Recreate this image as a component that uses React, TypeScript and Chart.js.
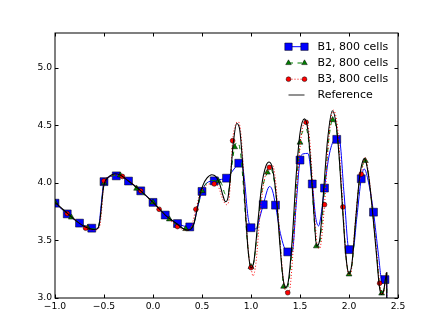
import React, { useEffect, useRef } from "react";
import { Chart, registerables } from "chart.js";

Chart.register(...registerables);

// ---------- tick values ----------
const xTicks = [-1.0, -0.5, 0.0, 0.5, 1.0, 1.5, 2.0, 2.5];
const yTicks = [3.0, 3.5, 4.0, 4.5, 5.0];
const seriesLabels = ["B1, 800 cells", "B2, 800 cells", "B3, 800 cells", "Reference"];

// ---------- reference solution ----------
const refX = [-1.0, -0.9, -0.8, -0.7, -0.64, -0.6, -0.57, -0.55, -0.535, -0.52, -0.505, -0.49, -0.46, -0.42, -0.38, -0.33, -0.25, -0.125, 0.0, 0.125, 0.25, 0.3, 0.35, 0.39, 0.42, 0.45, 0.48, 0.51, 0.55, 0.6, 0.64, 0.68, 0.71, 0.74, 0.765, 0.79, 0.82, 0.855, 0.885, 0.91, 0.94, 0.97, 1.0, 1.03, 1.07, 1.11, 1.15, 1.185, 1.22, 1.26, 1.29, 1.32, 1.35, 1.38, 1.42, 1.46, 1.5, 1.545, 1.58, 1.61, 1.64, 1.67, 1.7, 1.74, 1.78, 1.83, 1.87, 1.9, 1.94, 1.97, 2.0, 2.03, 2.07, 2.11, 2.157, 2.2, 2.24, 2.28, 2.31, 2.33, 2.355, 2.375, 2.385, 2.386];
const refY = [3.83, 3.755, 3.68, 3.62, 3.6, 3.595, 3.6, 3.63, 3.72, 3.85, 3.96, 4.01, 4.045, 4.07, 4.078, 4.065, 4.015, 3.93, 3.83, 3.72, 3.64, 3.605, 3.59, 3.6, 3.65, 3.77, 3.9, 3.98, 4.04, 4.07, 4.055, 3.99, 3.9, 3.835, 3.87, 4.05, 4.35, 4.515, 4.46, 4.22, 3.8, 3.42, 3.26, 3.32, 3.66, 3.98, 4.14, 4.18, 4.12, 3.86, 3.52, 3.22, 3.09, 3.14, 3.5, 4.05, 4.43, 4.555, 4.46, 4.16, 3.76, 3.45, 3.5, 3.92, 4.36, 4.625, 4.5, 4.22, 3.7, 3.35, 3.21, 3.3, 3.7, 4.06, 4.21, 4.06, 3.75, 3.38, 3.1, 3.03, 3.07, 3.18, 3.22, 1.0];

// ---------- B1 ----------
const b1X = [-1.0, -0.875, -0.75, -0.625, -0.58, -0.55, -0.53, -0.5, -0.45, -0.375, -0.25, -0.125, 0.0, 0.125, 0.25, 0.375, 0.41, 0.45, 0.5, 0.55, 0.625, 0.7, 0.75, 0.8, 0.875, 0.9, 0.93, 0.97, 1.0, 1.05, 1.09, 1.125, 1.19, 1.22, 1.25, 1.3, 1.37, 1.42, 1.46, 1.5, 1.53, 1.58, 1.625, 1.66, 1.69, 1.72, 1.75, 1.8, 1.86, 1.9, 1.95, 2.0, 2.04, 2.08, 2.125, 2.155, 2.2, 2.25, 2.3, 2.34, 2.367, 2.385, 2.388];
const b1Y = [3.823, 3.73, 3.65, 3.606, 3.6, 3.64, 3.8, 4.01, 4.05, 4.065, 4.015, 3.93, 3.83, 3.72, 3.646, 3.617, 3.63, 3.77, 3.925, 4.0, 4.017, 4.03, 4.04, 4.09, 4.17, 4.19, 4.05, 3.7, 3.61, 3.6, 3.7, 3.81, 3.968, 3.93, 3.806, 3.56, 3.4, 3.4, 3.8, 4.197, 4.25, 4.255, 3.99, 3.7, 3.626, 3.75, 3.954, 4.25, 4.377, 4.38, 3.9, 3.42, 3.42, 3.7, 4.035, 4.12, 4.0, 3.745, 3.38, 3.13, 3.16, 3.18, 1.0];
const b1MarkX = [-1.0, -0.875, -0.75, -0.625, -0.5, -0.375, -0.25, -0.125, 0.0, 0.125, 0.25, 0.375, 0.5, 0.625, 0.75, 0.875, 1.0, 1.125, 1.25, 1.375, 1.5, 1.625, 1.75, 1.875, 2.0, 2.125, 2.25, 2.367];
const b1MarkY = [3.823, 3.73, 3.65, 3.606, 4.01, 4.06, 4.015, 3.93, 3.83, 3.72, 3.646, 3.617, 3.925, 4.017, 4.04, 4.17, 3.61, 3.81, 3.806, 3.4, 4.197, 3.99, 3.954, 4.377, 3.42, 4.035, 3.745, 3.16];

// ---------- B2 ----------
const b2X = [-1.0, -0.833, -0.667, -0.6, -0.56, -0.535, -0.515, -0.5, -0.45, -0.333, -0.25, -0.167, 0.0, 0.167, 0.28, 0.333, 0.38, 0.42, 0.46, 0.5, 0.55, 0.6, 0.667, 0.7, 0.74, 0.77, 0.8, 0.833, 0.86, 0.89, 0.92, 0.95, 0.98, 1.0, 1.03, 1.07, 1.11, 1.167, 1.2, 1.23, 1.27, 1.3, 1.333, 1.36, 1.39, 1.43, 1.47, 1.5, 1.53, 1.56, 1.59, 1.62, 1.65, 1.667, 1.69, 1.72, 1.76, 1.8, 1.833, 1.86, 1.9, 1.94, 1.97, 2.0, 2.03, 2.07, 2.11, 2.167, 2.2, 2.24, 2.28, 2.31, 2.333, 2.355, 2.375, 2.386, 2.387];
const b2Y = [3.83, 3.7, 3.61, 3.6, 3.62, 3.72, 3.9, 4.0, 4.05, 4.065, 4.015, 3.95, 3.83, 3.684, 3.615, 3.6, 3.605, 3.66, 3.8, 3.93, 4.0, 4.02, 4.015, 3.99, 3.9, 3.92, 4.12, 4.31, 4.35, 4.28, 4.0, 3.62, 3.34, 3.27, 3.32, 3.62, 3.92, 4.09, 4.12, 4.05, 3.78, 3.45, 3.1, 3.07, 3.16, 3.55, 4.05, 4.35, 4.45, 4.47, 4.35, 4.0, 3.62, 3.45, 3.44, 3.62, 4.05, 4.42, 4.545, 4.52, 4.22, 3.72, 3.36, 3.206, 3.28, 3.68, 4.03, 4.19, 4.06, 3.76, 3.4, 3.12, 3.04, 3.06, 3.2, 3.22, 1.0];
const b2MarkX = [-1.0, -0.833, -0.667, -0.5, -0.333, -0.167, 0.0, 0.167, 0.333, 0.5, 0.667, 0.833, 1.0, 1.167, 1.333, 1.5, 1.667, 1.833, 2.0, 2.167, 2.333];
const b2MarkY = [3.83, 3.7, 3.61, 4.0, 4.065, 3.95, 3.83, 3.684, 3.6, 3.93, 4.015, 4.31, 3.27, 4.09, 3.1, 4.35, 3.45, 4.545, 3.206, 4.19, 3.04];

// ---------- B3 ----------
const b3X = [-1.0, -0.875, -0.75, -0.6875, -0.6, -0.56, -0.54, -0.525, -0.51, -0.5, -0.45, -0.38, -0.3125, -0.125, 0.0625, 0.25, 0.33, 0.38, 0.4375, 0.48, 0.53, 0.58, 0.625, 0.67, 0.71, 0.75, 0.775, 0.8125, 0.84, 0.87, 0.9, 0.93, 0.96, 0.99, 1.0, 1.02, 1.05, 1.09, 1.13, 1.1875, 1.22, 1.25, 1.28, 1.31, 1.34, 1.375, 1.4, 1.44, 1.48, 1.52, 1.5625, 1.59, 1.62, 1.65, 1.68, 1.7, 1.75, 1.79, 1.84, 1.88, 1.91, 1.9375, 1.97, 2.0, 2.02, 2.06, 2.1, 2.125, 2.165, 2.2, 2.24, 2.28, 2.3125, 2.335, 2.36, 2.38, 2.385, 2.386];
const b3Y = [3.83, 3.733, 3.65, 3.606, 3.59, 3.6, 3.64, 3.75, 3.92, 4.017, 4.05, 4.07, 4.055, 3.93, 3.77, 3.62, 3.59, 3.6, 3.77, 3.9, 3.97, 3.99, 3.99, 3.96, 3.86, 3.81, 3.85, 4.365, 4.5, 4.53, 4.4, 4.0, 3.55, 3.29, 3.264, 3.19, 3.3, 3.7, 4.0, 4.133, 4.15, 4.02, 3.7, 3.35, 3.1, 3.046, 3.1, 3.55, 4.1, 4.45, 4.525, 4.45, 4.12, 3.72, 3.44, 3.43, 3.81, 4.35, 4.63, 4.5, 4.18, 3.79, 3.35, 3.2, 3.22, 3.62, 3.98, 4.075, 4.22, 4.08, 3.77, 3.42, 3.128, 3.03, 3.07, 3.22, 3.22, 1.0];
const b3MarkX = [-0.875, -0.6875, -0.5, -0.3125, -0.125, 0.0625, 0.25, 0.4375, 0.625, 0.8125, 1.0, 1.1875, 1.375, 1.5625, 1.75, 1.9375, 2.125, 2.3125];
const b3MarkY = [3.733, 3.606, 4.017, 4.055, 3.93, 3.77, 3.62, 3.77, 3.99, 4.365, 3.264, 4.133, 3.046, 4.525, 3.81, 3.79, 4.075, 3.128];

const BLUE = "#0000ff";
const GREEN = "#008000";
const RED = "#ff0000";
const BLACK = "#000000";
const FONT = '"DejaVu Sans", "Liberation Sans", sans-serif';

const pts = (xs: number[], ys: number[]) => xs.map((x, i) => ({ x, y: ys[i] }));
const fmt = (v: number) => {
  const s = Number(v).toFixed(1);
  return s.startsWith("-") ? "\u2212" + s.slice(1) : s;
};

// Frame + inward ticks (matplotlib classic look)
const framePlugin = {
  id: "mplFrame",
  afterDatasetsDraw(chart: any) {
    const { ctx, chartArea: a, scales } = chart;
    ctx.save();
    ctx.strokeStyle = BLACK;
    ctx.lineWidth = 1;
    ctx.setLineDash([]);
    ctx.strokeRect(a.left, a.top, a.right - a.left, a.bottom - a.top);
    const tl = 3.5;
    ctx.beginPath();
    xTicks.forEach((v) => {
      const px = Math.round(scales.x.getPixelForValue(v)) + 0.5;
      ctx.moveTo(px, a.bottom);
      ctx.lineTo(px, a.bottom - tl);
      ctx.moveTo(px, a.top);
      ctx.lineTo(px, a.top + tl);
    });
    yTicks.forEach((v) => {
      const py = Math.round(scales.y.getPixelForValue(v)) + 0.5;
      ctx.moveTo(a.left, py);
      ctx.lineTo(a.left + tl, py);
      ctx.moveTo(a.right, py);
      ctx.lineTo(a.right - tl, py);
    });
    ctx.stroke();
    ctx.restore();
  },
};

const legendRows = [
  { color: BLUE, dash: [] as number[], marker: "rect" },
  { color: GREEN, dash: [4.5, 4.5], marker: "triangle" },
  { color: RED, dash: [1, 2], marker: "circle" },
  { color: "#555555", dash: [] as number[], marker: "none" },
];
const legendRowY = [46.7, 63.0, 79.2, 95.0];

function drawMarker(ctx: CanvasRenderingContext2D, kind: string, x: number, y: number, color: string) {
  ctx.save();
  ctx.setLineDash([]);
  ctx.fillStyle = color;
  ctx.strokeStyle = BLACK;
  ctx.lineWidth = 0.5;
  ctx.beginPath();
  if (kind === "rect") {
    ctx.rect(x - 3.7, y - 3.7, 7.4, 7.4);
  } else if (kind === "triangle") {
    const r = 3.2;
    ctx.moveTo(x, y - r);
    ctx.lineTo(x + r * 0.866, y + r * 0.5);
    ctx.lineTo(x - r * 0.866, y + r * 0.5);
    ctx.closePath();
  } else if (kind === "circle") {
    ctx.arc(x, y, 2.4, 0, Math.PI * 2);
  }
  ctx.fill();
  ctx.stroke();
  ctx.restore();
}

const legendPlugin = {
  id: "mplLegend",
  afterDraw(chart: any) {
    const ctx: CanvasRenderingContext2D = chart.ctx;
    ctx.save();
    const x0 = 288.5;
    const x1 = 304.5;
    const tx = 317.5;
    legendRows.forEach((r, i) => {
      const y = legendRowY[i];
      ctx.beginPath();
      ctx.setLineDash(r.dash);
      ctx.strokeStyle = r.color;
      ctx.lineWidth = r.marker === "none" ? 1.3 : 1;
      ctx.moveTo(x0, y);
      ctx.lineTo(x1, y);
      ctx.stroke();
      ctx.setLineDash([]);
      if (r.marker !== "none") {
        drawMarker(ctx, r.marker, x0, y, r.color);
        drawMarker(ctx, r.marker, x1, y, r.color);
      }
      ctx.fillStyle = BLACK;
      ctx.font = "11px " + FONT;
      ctx.textBaseline = "middle";
      ctx.textAlign = "left";
      ctx.fillText(seriesLabels[i], tx, y);
    });
    ctx.restore();
  },
};

export default function App() {
  const ref = useRef<HTMLCanvasElement | null>(null);

  useEffect(() => {
    if (!ref.current) return;
    const lineDs = (label: string, data: any, color: string, dash: number[], width = 1) => ({
      label,
      data,
      borderColor: color,
      backgroundColor: color,
      borderWidth: width,
      borderDash: dash,
      pointRadius: 0,
      pointHoverRadius: 0,
      fill: false,
      cubicInterpolationMode: "monotone" as const,
    });
    const markDs = (label: string, data: any, color: string, style: string, radius: number) => ({
      label,
      data,
      showLine: false,
      pointStyle: style,
      pointRadius: radius,
      pointHoverRadius: radius,
      pointBackgroundColor: color,
      pointBorderColor: BLACK,
      pointBorderWidth: 0.5,
      borderColor: color,
      backgroundColor: color,
    });

    // first dataset is drawn on top in Chart.js
    const datasets: any[] = [
      lineDs(seriesLabels[3], pts(refX, refY), BLACK, [], 1.1),
      markDs(seriesLabels[2] + " markers", pts(b3MarkX, b3MarkY), RED, "circle", 2.4),
      lineDs(seriesLabels[2], pts(b3X, b3Y), RED, [1, 2]),
      markDs(seriesLabels[1] + " markers", pts(b2MarkX, b2MarkY), GREEN, "triangle", 3.4),
      lineDs(seriesLabels[1], pts(b2X, b2Y), GREEN, [4.5, 4.5]),
      markDs(seriesLabels[0] + " markers", pts(b1MarkX, b1MarkY), BLUE, "rect", 5.6),
      lineDs(seriesLabels[0], pts(b1X, b1Y), BLUE, []),
    ];

    const chart = new Chart(ref.current, {
      type: "line",
      data: { datasets },
      plugins: [framePlugin, legendPlugin],
      options: {
        animation: false,
        responsive: false,
        events: [],
        layout: { padding: { top: 33, right: 44, left: 0, bottom: 0 } },
        plugins: {
          legend: { display: false },
          tooltip: { enabled: false },
          title: { display: false },
        },
        scales: {
          x: {
            type: "linear",
            min: -1.0,
            max: 2.5,
            grid: { display: false, drawTicks: false },
            border: { display: false },
            afterBuildTicks: (s: any) => {
              s.ticks = xTicks.map((v) => ({ value: v }));
            },
            afterFit: (s: any) => {
              s.height = 33;
            },
            ticks: {
              color: BLACK,
              padding: 3,
              maxRotation: 0,
              autoSkip: false,
              font: { family: FONT, size: 9.2 },
              callback: (v: any) => fmt(Number(v)),
            },
          },
          y: {
            type: "linear",
            min: 3.0,
            max: 5.3,
            grid: { display: false, drawTicks: false },
            border: { display: false },
            afterBuildTicks: (s: any) => {
              s.ticks = yTicks.map((v) => ({ value: v }));
            },
            afterFit: (s: any) => {
              s.width = 55;
            },
            ticks: {
              color: BLACK,
              padding: 3,
              autoSkip: false,
              font: { family: FONT, size: 9.2 },
              callback: (v: any) => fmt(Number(v)),
            },
          },
        },
      },
    });
    return () => chart.destroy();
  }, []);

  return (
    <div style={{ position: "fixed", left: 0, top: 0, width: 442, height: 331, background: "#fff" }}>
      <canvas ref={ref} width={442} height={331} style={{ display: "block", width: 442, height: 331 }} />
    </div>
  );
}
